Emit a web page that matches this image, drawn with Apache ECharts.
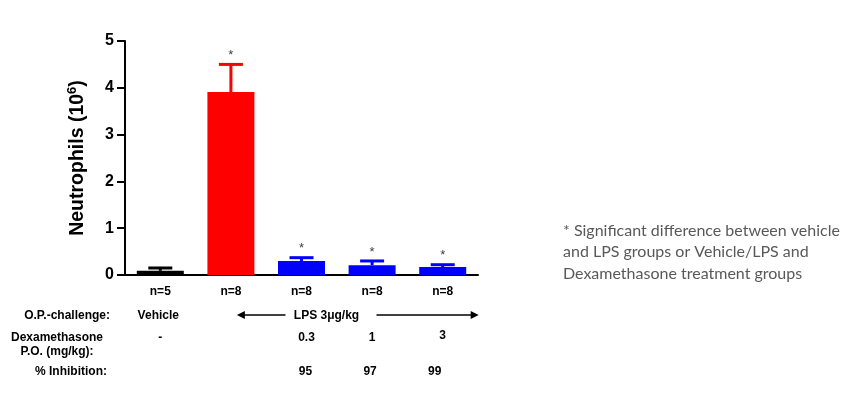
<!DOCTYPE html>
<html>
<head>
<meta charset="utf-8">
<script src="https://cdn.jsdelivr.net/npm/echarts@6/dist/echarts.min.js"></script>
<style>
  body { margin: 0; background: #fff; }
  #chart { width: 860px; height: 404px; }
</style>
</head>
<body>
<div id="chart"></div>
<script>
  // group sizes shown under each bar
  var nLabels = ['n=5', 'n=8', 'n=8', 'n=8', 'n=8'];
  // mean neutrophils (10^6) and mean + SEM
  var means = [0.09, 3.91, 0.30, 0.21, 0.17];
  var upper = [0.15, 4.50, 0.37, 0.30, 0.22];
  var sig = ['', '*', '*', '*', '*'];
  var barColors = ['#000000', '#ff0000', '#0000ff', '#0000ff', '#0000ff'];
  var yTicks = [0, 1, 2, 3, 4, 5];
  // table under the chart
  var challenge = ['Vehicle', '', '', '', ''];
  var dexDose = ['-', '', '0.3', '1', '3'];
  var inhibition = ['', '', '95', '97', '99'];

  var myChart = echarts.init(document.getElementById('chart'));
  var font = 'Liberation Sans, Arial, sans-serif';

  var barData = means.map(function (v, i) {
    return { value: v, itemStyle: { color: barColors[i] } };
  });
  var errData = means.map(function (v, i) { return [i, v, upper[i]]; });

  var option = {
    animation: false,
    grid: { left: 125, right: 382, top: 41, bottom: 129 },
    xAxis: {
      type: 'category',
      data: nLabels,
      axisLine: { lineStyle: { color: '#000', width: 2 } },
      axisTick: { alignWithLabel: true, length: 7, lineStyle: { color: '#000', width: 2 } },
      axisLabel: { color: '#000', fontFamily: font, fontWeight: 'bold', fontSize: 12, margin: 11 }
    },
    yAxis: {
      type: 'value',
      min: yTicks[0],
      max: yTicks[yTicks.length - 1],
      interval: 1,
      name: '{b|Neutrophils (10}{s|6}{b|)}',
      nameLocation: 'middle',
      nameGap: 35,
      nameRotate: 90,
      nameTextStyle: {
        rich: {
          b: { fontFamily: font, fontWeight: 'bold', fontSize: 19.5, color: '#000', lineHeight: 24 },
          s: { fontFamily: font, fontWeight: 'bold', fontSize: 13, color: '#000', verticalAlign: 'top', lineHeight: 24, padding: [0, 0, 9, 0] }
        }
      },
      splitLine: { show: false },
      axisLine: { show: true, lineStyle: { color: '#000', width: 2 } },
      axisTick: { show: true, length: 8, lineStyle: { color: '#000', width: 2 } },
      axisLabel: { color: '#000', fontFamily: font, fontWeight: 'bold', fontSize: 16, margin: 11 }
    },
    series: [
      {
        type: 'bar',
        data: barData,
        barWidth: 47,
        z: 2
      },
      {
        type: 'custom',
        data: errData,
        z: 3,
        renderItem: function (params, api) {
          var i = api.value(0);
          var p0 = api.coord([i, api.value(1)]);
          var p1 = api.coord([i, api.value(2)]);
          var c = barColors[i];
          return {
            type: 'group',
            children: [
              { type: 'line', shape: { x1: p0[0], y1: p0[1], x2: p1[0], y2: p1[1] }, style: { stroke: c, lineWidth: 3 } },
              { type: 'line', shape: { x1: p0[0] - 12, y1: p1[1], x2: p0[0] + 12, y2: p1[1] }, style: { stroke: c, lineWidth: 3 } },
              { type: 'text', x: p0[0], y: p1[1] - 9, style: { text: sig[i], fontFamily: font, fontSize: 13, fill: '#404040', align: 'center', verticalAlign: 'middle' } }
            ]
          };
        }
      }
    ]
  };
  myChart.setOption(option);

  // table rows under the x axis, placed at the category positions
  function cx(i) { return myChart.convertToPixel({ xAxisIndex: 0 }, i); }
  var tStyle = { fontFamily: font, fontWeight: 'bold', fontSize: 12, fill: '#000' };
  function txt(x, y, s, align) {
    return { type: 'text', x: x, y: y, style: Object.assign({ text: s, align: align || 'center', verticalAlign: 'middle' }, tStyle) };
  }
  var g = [];
  g.push(txt(110, 316, 'O.P.-challenge:', 'right'));
  g.push(txt(57, 338, 'Dexamethasone'));
  g.push(txt(57, 352, 'P.O. (mg/kg):'));
  g.push(txt(107, 372, '% Inhibition:', 'right'));
  for (var i = 0; i < nLabels.length; i++) {
    if (challenge[i]) g.push(txt(cx(i) - 2, 316, challenge[i]));
    if (dexDose[i]) g.push(txt(cx(i) + (i === 2 ? 5 : 0), i === 4 ? 336 : 338, dexDose[i]));
    if (inhibition[i]) g.push(txt(cx(i) + (i === 2 ? 4 : (i === 4 ? -8 : -2)), 372, inhibition[i]));
  }
  // LPS arrow spanning the LPS groups
  var aL = cx(1) + 6, aR = cx(4) + 36, ay = 315;
  var lpsX = cx(2) + 25;
  g.push({ type: 'line', shape: { x1: aL + 6, y1: ay, x2: lpsX - 41, y2: ay }, style: { stroke: '#000', lineWidth: 1.5 } });
  g.push({ type: 'line', shape: { x1: lpsX + 50, y1: ay, x2: aR - 6, y2: ay }, style: { stroke: '#000', lineWidth: 1.5 } });
  g.push({ type: 'polygon', shape: { points: [[aL, ay], [aL + 8, ay - 4], [aL + 8, ay + 4]] }, style: { fill: '#000' } });
  g.push({ type: 'polygon', shape: { points: [[aR, ay], [aR - 8, ay - 4], [aR - 8, ay + 4]] }, style: { fill: '#000' } });
  g.push(txt(lpsX, 316, 'LPS 3\u03bcg/kg'));
  // footnote
  g.push({
    type: 'text', x: 563, y: 220,
    style: {
      text: '* Significant difference between vehicle\nand LPS groups or Vehicle/LPS and\nDexamethasone treatment groups',
      fontFamily: 'Lato, Open Sans, sans-serif', fontSize: 16, lineHeight: 21.5, fill: '#595959', align: 'left', verticalAlign: 'top'
    }
  });
  myChart.setOption({ graphic: g });
</script>
</body>
</html>
